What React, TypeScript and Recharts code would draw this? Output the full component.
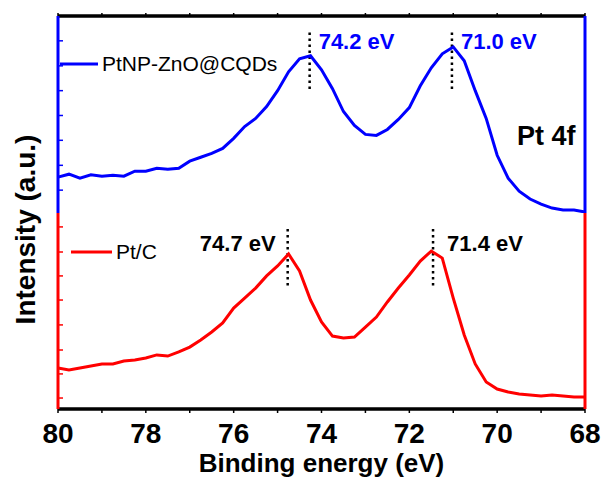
import { LineChart, Line, XAxis, YAxis, ReferenceLine, Legend } from 'recharts';

const FONT = '"Liberation Sans", Arial, Helvetica, sans-serif';
const BLUE = '#0000ff';
const RED = '#ff0000';

// binding energy (eV), high to low like the spectrometer output
const energy = [
  80, 79.75, 79.5, 79.25, 79, 78.75, 78.5, 78.25, 78, 77.75, 77.5, 77.25, 77,
  76.75, 76.5, 76.25, 76, 75.75, 75.5, 75.25, 75, 74.75, 74.5, 74.25, 74,
  73.75, 73.5, 73.25, 73, 72.75, 72.5, 72.25, 72, 71.75, 71.5, 71.25, 71,
  70.75, 70.5, 70.25, 70, 69.75, 69.5, 69.25, 69, 68.75, 68.5, 68.25, 68,
];

// intensities (a.u.), each spectrum normalised to its own panel
const ptZnoCqds = [
  18.2, 19.7, 17.7, 19.4, 18.7, 19.2, 18.7, 21.2, 21.2, 22.7, 22.2, 22.7, 26.3,
  28.3, 30.3, 32.8, 37.9, 43.9, 48.0, 54.0, 62.1, 71.7, 78.3, 79.8, 72.7,
  63.1, 51.5, 44.4, 39.9, 39.4, 42.4, 47.5, 53.5, 64.6, 73.7, 80.8, 84.3,
  77.3, 62.1, 48.0, 29.3, 17.7, 11.1, 7.1, 4.5, 2.5, 1.5, 1.5, 0.5,
];
const ptC = [
  20.9, 19.9, 20.9, 21.9, 23.0, 23.0, 24.5, 25.0, 26.0, 27.6, 27.0, 29.1, 31.6,
  35.2, 39.3, 43.9, 51.5, 56.6, 61.7, 67.9, 73.0, 79.1, 70.4, 55.6, 44.4,
  37.2, 36.2, 36.7, 41.8, 46.9, 54.6, 61.7, 68.4, 75.5, 80.6, 77.0, 56.6,
  37.8, 23.0, 13.8, 10.2, 8.7, 7.7, 7.1, 6.6, 7.1, 6.6, 6.1, 6.1,
];

const energyTicks = [80, 79, 78, 77, 76, 75, 74, 73, 72, 71, 70, 69, 68];
const topTicks = [11.6, 24.2, 36.9, 49.5, 62.1, 74.7, 87.4];
const bottomTicks = [5.6, 17.9, 30.1, 42.9, 55.6, 67.9, 80.1, 92.9];

const topPeaks = [74.27, 71.03];
const topPeakLabels = ['74.2 eV', '71.0 eV'];
const bottomPeaks = [74.77, 71.46];
const bottomPeakLabels = ['74.7 eV', '71.4 eV'];
const peakMarkRange = [63, 93];

const topData = energy.map((e, i) => ({ e, v: ptZnoCqds[i] }));
const bottomData = energy.map((e, i) => ({ e, v: ptC[i] }));

const noLabel = () => '';

function peakLabel(text: string, color: string, dx: number, dy: number, anchor: 'start' | 'end') {
  return (props: any) => {
    const vb = props.viewBox || { x: 0, y: 0 };
    return (
      <text x={vb.x + dx} y={vb.y + dy} fill={color} fontSize={22} fontWeight="bold"
        fontFamily={FONT} textAnchor={anchor}>
        {text}
      </text>
    );
  };
}

function legendContent(x1: number, x2: number, y: number) {
  return (props: any) => {
    const item = props.payload && props.payload[0];
    if (!item) return null;
    return (
      <svg width={300} height={80} style={{ overflow: 'visible' }}>
        <line x1={x1} x2={x2} y1={y} y2={y} stroke={item.color} strokeWidth={3} />
        <text x={x2 + 4} y={y + 7} fontSize={21} fontFamily={FONT} fill="#000">{item.value}</text>
      </svg>
    );
  };
}

function sideAxes(color: string, ticks: number[]) {
  const common = {
    type: 'number' as const,
    domain: [0, 100],
    ticks,
    tickFormatter: noLabel,
    mirror: true,
    width: 1,
    tickSize: 5,
    stroke: color,
    strokeWidth: 3,
    axisLine: { stroke: color, strokeWidth: 3 },
    tickLine: { stroke: color, strokeWidth: 1.5 },
  };
  return [
    <YAxis key="l" yAxisId="l" orientation="left" {...common} />,
    <YAxis key="r" yAxisId="r" orientation="right" {...common} />,
  ];
}

const dotted = { stroke: '#000', strokeWidth: 2.5, strokeDasharray: '2.5 3.5' };

export default function App() {
  return (
    <div style={{ position: 'relative', width: 604, height: 480, background: '#fff', fontFamily: FONT }}>
      <style>{'body{margin:0}'}</style>

      <div style={{ position: 'absolute', left: 0, top: 0 }}>
        <LineChart width={604} height={213} data={topData} margin={{ top: 15, right: 19, bottom: 0, left: 58 }}>
          <XAxis dataKey="e" type="number" domain={[68, 80]} reversed orientation="top" ticks={energyTicks}
            interval={0} tickFormatter={noLabel} tickSize={3} height={1} stroke="#000" strokeWidth={3}
            axisLine={{ stroke: '#000', strokeWidth: 3 }} tickLine={{ stroke: '#000', strokeWidth: 1.5 }} />
          {sideAxes(BLUE, topTicks)}
          {/* top frame edge, drawn heavy like the original plot */}
          <ReferenceLine yAxisId="l" y={100} stroke="#000" strokeWidth={3} />
          <Legend verticalAlign="middle" align="center" layout="horizontal"
            wrapperStyle={{ left: 0, top: 0, width: 300, height: 80 }}
            content={legendContent(60, 98, 64)} />
          {topPeaks.map((p, i) => (
            <ReferenceLine key={p} yAxisId="l" {...dotted}
              segment={[{ x: p, y: peakMarkRange[0] }, { x: p, y: peakMarkRange[1] }]}
              label={peakLabel(topPeakLabels[i], BLUE, 9, 19, 'start')} />
          ))}
          <Line yAxisId="l" type="linear" dataKey="v" name="PtNP-ZnO@CQDs" stroke={BLUE} strokeWidth={3}
            dot={false} isAnimationActive={false} />
        </LineChart>
      </div>

      <div style={{ position: 'absolute', left: 0, top: 213 }}>
        <LineChart width={604} height={267} data={bottomData} margin={{ top: 0, right: 19, bottom: 0, left: 58 }}>
          <XAxis dataKey="e" type="number" domain={[68, 80]} reversed ticks={energyTicks} interval={0}
            tickFormatter={(v: number) => (v % 2 === 0 ? String(v) : '')}
            height={71} tickSize={4} tickMargin={10} stroke="#000" strokeWidth={3}
            tick={{ fill: '#000', fontSize: 28, fontWeight: 'bold', fontFamily: FONT, strokeWidth: 0 }}
            axisLine={{ stroke: '#000', strokeWidth: 3 }} tickLine={{ stroke: '#000', strokeWidth: 1.5 }}
            label={{ value: 'Binding energy (eV)', position: 'insideBottom', offset: 8, fill: '#000',
              fontSize: 26, fontWeight: 'bold', fontFamily: FONT }} />
          {sideAxes(RED, bottomTicks)}
          <ReferenceLine yAxisId="l" y={0} stroke="#000" strokeWidth={3} />
          <Legend verticalAlign="middle" align="center" layout="horizontal"
            wrapperStyle={{ left: 0, top: 0, width: 300, height: 80 }}
            content={legendContent(71, 112, 39)} />
          {bottomPeaks.map((p, i) => (
            <ReferenceLine key={p} yAxisId="l" {...dotted}
              segment={[{ x: p, y: peakMarkRange[0] }, { x: p, y: peakMarkRange[1] }]}
              label={i === 0
                ? peakLabel(bottomPeakLabels[i], '#000', -12, 24, 'end')
                : peakLabel(bottomPeakLabels[i], '#000', 14, 24, 'start')} />
          ))}
          <Line yAxisId="l" type="linear" dataKey="v" name="Pt/C" stroke={RED} strokeWidth={3}
            dot={false} isAnimationActive={false} />
        </LineChart>
      </div>

      <svg width={604} height={480} style={{ position: 'absolute', left: 0, top: 0, pointerEvents: 'none' }}>
        <text transform="translate(35,229.5) rotate(-90)" textAnchor="middle" fontSize={28}
          fontWeight="bold" fontFamily={FONT} fill="#000">
          Intensity (a.u.)
        </text>
        <text x={517} y={145} fontSize={27} fontWeight="bold" fontFamily={FONT} fill="#000">Pt 4f</text>
      </svg>
    </div>
  );
}
